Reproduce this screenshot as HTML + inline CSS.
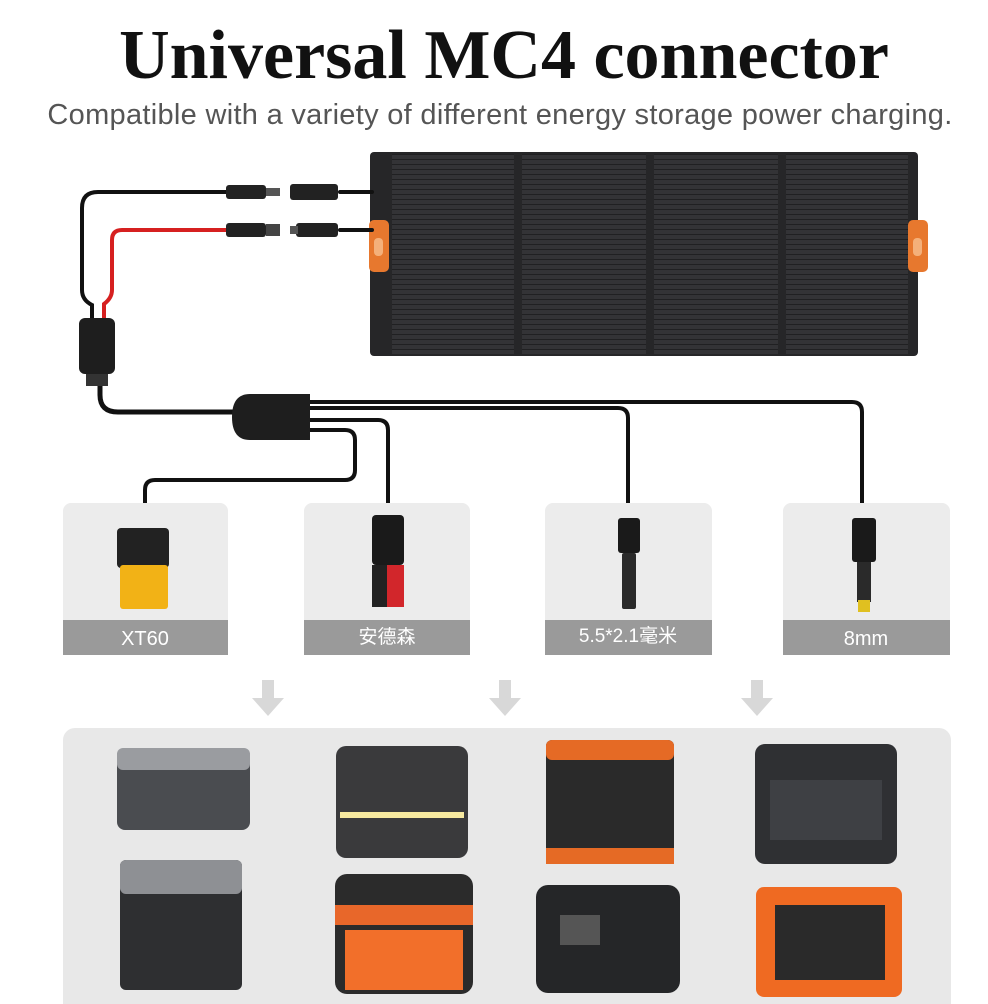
<!DOCTYPE html>
<html><head><style>
body{margin:0;background:#fff;width:988px;height:1004px;overflow:hidden;position:relative;font-family:"Liberation Sans","Noto Sans CJK SC",sans-serif}
.t{position:absolute;left:0;width:988px;text-align:center;white-space:nowrap}
</style></head><body>
<div class="t" style="top:16px;font-family:'Liberation Serif',serif;font-weight:bold;font-size:70px;color:#111;left:10px">Universal MC4 connector</div>
<div class="t" style="top:99px;font-size:29px;color:#555;left:6px;letter-spacing:0.3px">Compatible with a variety of different energy storage power charging.</div>
<svg width="988" height="1004" style="position:absolute;left:0;top:0" xmlns="http://www.w3.org/2000/svg">
<defs>
<pattern id="cells" width="6" height="5" patternUnits="userSpaceOnUse"><rect width="6" height="5" fill="#333336"/><rect y="4" width="6" height="1" fill="#202022"/></pattern>
</defs>
<rect x="370" y="152" width="548" height="204" rx="4" fill="#262628"/>
<rect x="392" y="154" width="122" height="200" fill="url(#cells)"/>
<rect x="522" y="154" width="124" height="200" fill="url(#cells)"/>
<rect x="654" y="154" width="124" height="200" fill="url(#cells)"/>
<rect x="786" y="154" width="122" height="200" fill="url(#cells)"/>
<rect x="369" y="220" width="20" height="52" rx="5" fill="#e7782e"/>
<rect x="374" y="238" width="9" height="18" rx="4" fill="#f4b07a"/>
<rect x="908" y="220" width="20" height="52" rx="5" fill="#e7782e"/>
<rect x="913" y="238" width="9" height="18" rx="4" fill="#f4b07a"/>
<g fill="none" stroke-width="4" stroke-linecap="round">
<path d="M230 192 H98 Q82 192 82 208 V290 Q82 300 92 305 V320" stroke="#111"/>
<path d="M230 230 H122 Q112 230 112 240 V290 Q112 298 104 304 V320" stroke="#d62020"/>
<path d="M340 192 H372 M340 230 H372" stroke="#111"/>
<path d="M100 372 V395 Q100 412 118 412 H235" stroke="#111" stroke-width="5"/>
<path d="M305 402 H852 Q862 402 862 412 V505" stroke="#111"/>
<path d="M305 408 H618 Q628 408 628 418 V505" stroke="#111"/>
<path d="M305 420 H378 Q388 420 388 430 V505" stroke="#111"/>
<path d="M305 430 H345 Q355 430 355 440 V470 Q355 480 345 480 H155 Q145 480 145 490 V505" stroke="#111"/>
</g>
<g fill="#222">
<rect x="226" y="185" width="40" height="14" rx="3"/><rect x="266" y="188" width="14" height="8" fill="#555"/>
<rect x="226" y="223" width="40" height="14" rx="3"/><rect x="266" y="224" width="14" height="12" fill="#444"/>
<rect x="290" y="184" width="48" height="16" rx="3"/>
<rect x="296" y="223" width="42" height="14" rx="3"/><rect x="290" y="226" width="8" height="8" fill="#555"/>
</g>
<rect x="79" y="318" width="36" height="56" rx="6" fill="#1e1e1e"/>
<rect x="86" y="374" width="22" height="12" fill="#333"/>
<path d="M250 394 H310 V440 H250 Q232 440 232 417 Q232 394 250 394Z" fill="#1e1e1e"/>
<g>
<rect x="63" y="503" width="165" height="152" rx="8" fill="#ececec"/>
<rect x="63" y="620" width="165" height="35" fill="#9a9a9a"/>
<rect x="304" y="503" width="166" height="152" rx="8" fill="#ececec"/>
<rect x="304" y="620" width="166" height="35" fill="#9a9a9a"/>
<rect x="545" y="503" width="167" height="152" rx="8" fill="#ececec"/>
<rect x="545" y="620" width="167" height="35" fill="#9a9a9a"/>
<rect x="783" y="503" width="167" height="152" rx="8" fill="#ececec"/>
<rect x="783" y="620" width="167" height="35" fill="#9a9a9a"/>
</g>
<text x="145" y="645" font-size="20" fill="#fff" text-anchor="middle" font-family="Liberation Sans,sans-serif">XT60</text>
<text x="387" y="643" font-size="19" fill="#fff" text-anchor="middle" font-family="Liberation Sans,Noto Sans CJK SC,sans-serif">安德森</text>
<text x="628" y="642" font-size="19" fill="#fff" text-anchor="middle" font-family="Liberation Sans,Noto Sans CJK SC,sans-serif">5.5*2.1毫米</text>
<text x="866" y="645" font-size="20" fill="#fff" text-anchor="middle" font-family="Liberation Sans,sans-serif">8mm</text>
<rect x="117" y="528" width="52" height="40" rx="4" fill="#222"/>
<rect x="120" y="565" width="48" height="44" rx="3" fill="#f2b216"/>
<rect x="372" y="515" width="32" height="50" rx="4" fill="#1a1a1a"/>
<rect x="372" y="565" width="15" height="42" fill="#222"/><rect x="387" y="565" width="17" height="42" fill="#d2262b"/>
<rect x="618" y="518" width="22" height="35" rx="3" fill="#1a1a1a"/>
<rect x="622" y="553" width="14" height="56" rx="2" fill="#2a2a2a"/>
<rect x="852" y="518" width="24" height="44" rx="3" fill="#1a1a1a"/>
<rect x="857" y="562" width="14" height="40" fill="#2a2a2a"/><rect x="858" y="600" width="12" height="12" fill="#e0c020"/>
<g fill="#d8d8d8">
<path d="M262 680h12v18h10l-16 18-16-18h10z"/>
<path d="M499 680h12v18h10l-16 18-16-18h10z"/>
<path d="M751 680h12v18h10l-16 18-16-18h10z"/>
</g>
<rect x="63" y="728" width="888" height="290" rx="12" fill="#e8e8e8"/>
<rect x="117" y="748" width="133" height="82" rx="8" fill="#4a4c50"/><rect x="117" y="748" width="133" height="22" rx="6" fill="#9a9ca0"/>
<rect x="336" y="746" width="132" height="112" rx="10" fill="#3a3a3c"/><rect x="340" y="812" width="124" height="6" fill="#f7e9a0"/>
<rect x="546" y="740" width="128" height="124" rx="6" fill="#2a2a2a"/><rect x="546" y="740" width="128" height="20" rx="6" fill="#e56a25"/><rect x="546" y="848" width="128" height="16" fill="#e56a25"/>
<rect x="755" y="744" width="142" height="120" rx="10" fill="#2f3033"/><rect x="770" y="780" width="112" height="60" fill="#3e4044"/>
<rect x="120" y="860" width="122" height="130" rx="6" fill="#2e2f31"/><rect x="120" y="860" width="122" height="34" rx="6" fill="#8e9094"/>
<rect x="335" y="874" width="138" height="120" rx="12" fill="#2b2b2b"/><rect x="335" y="905" width="138" height="20" fill="#e8672a"/><rect x="345" y="930" width="118" height="60" fill="#f26f2a"/>
<rect x="536" y="885" width="144" height="108" rx="12" fill="#252628"/><rect x="560" y="915" width="40" height="30" fill="#555"/>
<rect x="756" y="887" width="146" height="110" rx="8" fill="#ef6a22"/><rect x="775" y="905" width="110" height="75" fill="#2a2a2a"/>
</svg>
</body></html>
